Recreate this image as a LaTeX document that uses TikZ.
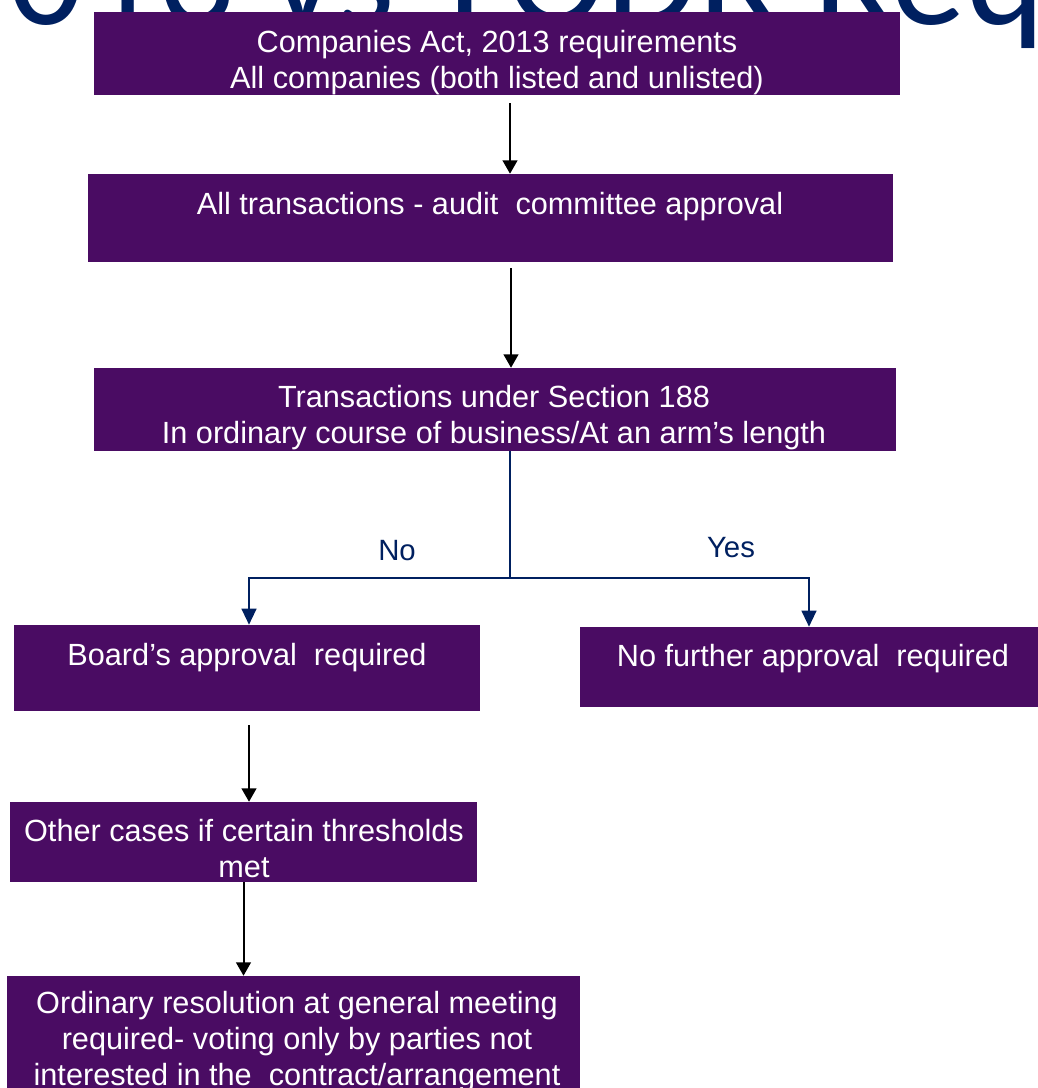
\documentclass[tikz,border=0pt]{standalone}
\usepackage{fontspec}
\setmainfont{Liberation Sans}
\newfontfamily\titlefont{Carlito}
\usetikzlibrary{arrows.meta,calc}

\definecolor{boxpurple}{HTML}{4A0C63}
\definecolor{navy}{HTML}{002060}

\tikzset{
  box/.style={draw=none, fill=boxpurple, inner sep=0pt},
  boxtext/.style={text=white, align=center, inner sep=0pt,
    font=\fontsize{23}{27}\selectfont},
  branchlabel/.style={text=navy, inner sep=0pt, font=\fontsize{22}{26}\selectfont},
  flow/.style={draw=black, line width=1.5pt,
    -{Triangle[length=10pt,width=11pt]}},
  branch/.style={draw=navy, line width=1.6pt,
    -{Triangle[length=12pt,width=11pt]}},
  stem/.style={draw=navy, line width=0.8pt},
}

% place a purple box from its pixel corners (x1,y1)-(x2,y2)
\newcommand{\pbox}[5]{%
  \node[box, minimum width={(#4-#2)*0.75pt}, minimum height={(#5-#3)*0.75pt}]
    (#1) at ({(#2+#4)/2},{(#3+#5)/2}) {};}

\begin{document}
\begin{tikzpicture}[x=0.75pt, y=-0.75pt]
\useasboundingbox (0,0) rectangle (1038,1088);

% slide heading behind the chart
\node[anchor=base west, inner sep=0pt, text=navy,
      font=\titlefont\fontsize{112}{120}\selectfont] (heading) at (8,25)
      {013 vs \hspace{15pt}LODR Req};

% boxes
\pbox{b1}{94}{12}{900}{95}
\pbox{b2}{88}{174}{893}{262}
\pbox{b3}{94}{368}{896}{451}
\pbox{b4}{14}{625}{480}{711}
\pbox{b5}{580}{627}{1038}{707}
\pbox{b6}{10}{802}{477}{882}
\pbox{b7}{7}{976}{580}{1100}

% box texts
\node[boxtext] (t1) at (497,63) {Companies Act, 2013 requirements\\All companies (both listed and unlisted)};
\node[boxtext] (t2) at (490,207) {All transactions - audit\ \ committee approval};
\node[boxtext] (t3) at (494,418) {Transactions under Section 188\\In ordinary course of business/At an arm’s length};
\node[boxtext] (t4) at (247,658) {Board’s approval\ \ required};
\node[boxtext] (t5) at (813,659) {No further approval\ \ required};
\node[boxtext] (t6) at (244,849) {Other cases if certain thresholds\\met};
\node[boxtext] (t7) at (297,1042) {Ordinary resolution at general meeting\\required- voting only by parties not\\interested in the\ \ contract/arrangement};

% main flow
\coordinate (a1s) at ($(b1.south)+(13,8)$);
\coordinate (a1e) at (a1s |- b2.north);
\draw[flow] (a1s) -- (a1e);
\coordinate (a2s) at ($(b2.south)+(20.5,6)$);
\coordinate (a2e) at (a2s |- b3.north);
\draw[flow] (a2s) -- (a2e);

% decision branch
\coordinate (fork) at (510,578);
\draw[stem] (b3.south -| fork) -- (fork);
\coordinate (noend) at ($(b4.north)+(2,0)$);
\draw[branch] (fork) -| (noend);
\draw[branch] (fork) -| (b5.north);
\node[branchlabel] (no) at (397,551) {No};
\node[branchlabel] (yes) at (731,548) {Yes};

% lower flow
\coordinate (a3s) at ($(b4.south)+(2,14)$);
\coordinate (a3e) at (a3s |- b6.north);
\draw[flow] (a3s) -- (a3e);
\coordinate (a4e) at (b6.south |- b7.north);
\draw[flow] (b6.south) -- (a4e);
\end{tikzpicture}
\end{document}
